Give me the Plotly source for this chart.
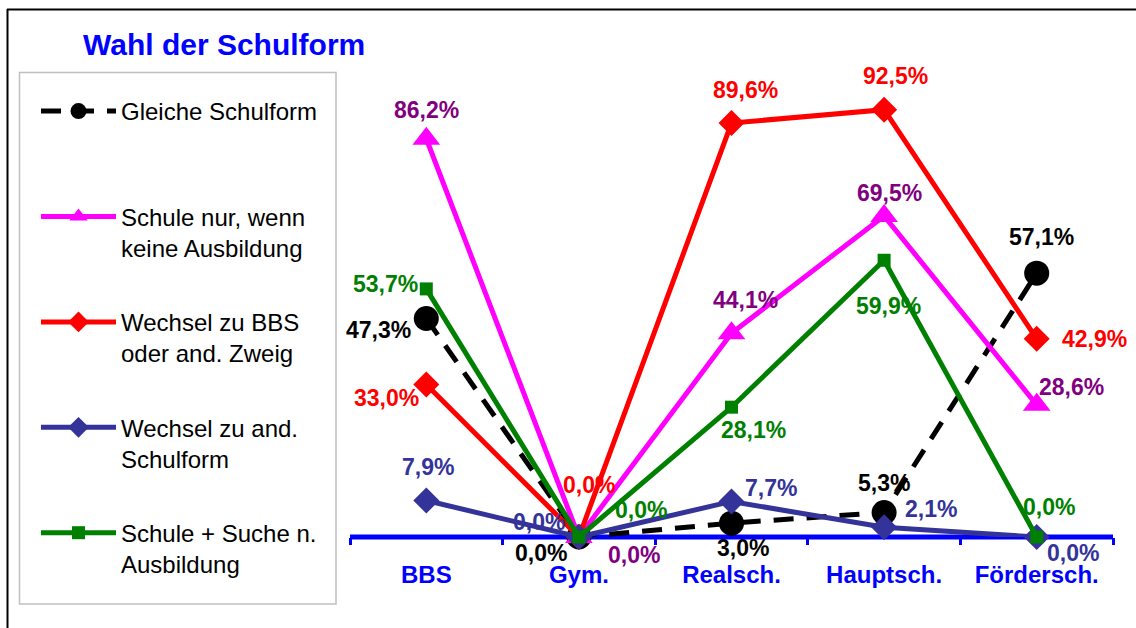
import plotly.graph_objects as go

# ---------------- data ----------------
categories = ["BBS", "Gym.", "Realsch.", "Hauptsch.", "Fördersch."]

gleiche_schulform = [47.3, 0.0, 3.0, 5.3, 57.1]
schule_nur = [86.2, 0.0, 44.1, 69.5, 28.6]
wechsel_bbs = [33.0, 0.0, 89.6, 92.5, 42.9]
wechsel_schulform = [7.9, 0.0, 7.7, 2.1, 0.0]
schule_suche = [53.7, 0.0, 28.1, 59.9, 0.0]

series_names = [
    "Gleiche Schulform<br> ",
    "Schule nur, wenn<br>keine Ausbildung",
    "Wechsel zu BBS<br>oder and. Zweig",
    "Wechsel zu and.<br>Schulform",
    "Schule + Suche n.<br>Ausbildung",
]
series_values = [gleiche_schulform, schule_nur, wechsel_bbs, wechsel_schulform, schule_suche]

title_text = "Wahl der Schulform"

# ---------------- styles ----------------
line_colors = ["#000000", "#FF00FF", "#FF0000", "#333399", "#008000"]
label_colors = ["#000000", "#800080", "#FF0000", "#333399", "#008000"]
symbols = ["circle", "triangle-up", "diamond", "diamond", "square"]
marker_sizes = [25, 24, 20, 20, 13]
dashes = ["20px,13px", "solid", "solid", "solid", "solid"]

# label offsets in pixels (dx right, dy down) relative to each point
label_offsets = [
    [(-48, 12), (-38, 16), (11, 25), (0, -30), (5, -36)],
    [(0, -29), (55, 18), (14, -33), (5, -23), (35, -18)],
    [(-40, 13), (10, -52), (14, -33), (11, -34), (58, 0)],
    [(2, -34), (-40, -15), (39, -13), (47, -18), (36, 16)],
    [(-41, -5), (62, -27), (22, 23), (4, 46), (12, -30)],
]

W, H = 1136, 628
ML, MR, MT, MB = 350, 23, 75, 91
PW = W - ML - MR
PH = H - MT - MB


def px(x):
    return (x - ML) / PW


def py(y):
    return (H - MB - y) / PH


FONT = "Liberation Sans, Arial, sans-serif"

fig = go.Figure()
for i, (name, vals) in enumerate(zip(series_names, series_values)):
    fig.add_trace(go.Scatter(
        x=categories, y=vals, name=name, mode="lines+markers",
        line=dict(color=line_colors[i], width=5, dash=dashes[i]),
        marker=dict(symbol=symbols[i], size=marker_sizes[i], color=line_colors[i],
                    line=dict(width=0)),
        legendgroup=f"g{i}", cliponaxis=False, hoverinfo="skip",
    ))

annotations = []
for i, vals in enumerate(series_values):
    for j, v in enumerate(vals):
        dx, dy = label_offsets[i][j]
        annotations.append(dict(
            x=categories[j], y=v, xref="x", yref="y",
            text=f"{v:.1f}%".replace(".", ","), showarrow=False,
            xanchor="center", yanchor="middle", xshift=dx, yshift=-dy,
            font=dict(family=FONT, size=23, color=label_colors[i], weight="bold"),
        ))

annotations.append(dict(
    x=px(81), y=py(44), xref="paper", yref="paper", text=title_text,
    showarrow=False, xanchor="left", yanchor="middle",
    font=dict(family=FONT, size=30, color="#0000FF", weight="bold"),
))

shapes = [
    # outer frame (top and left visible)
    dict(type="line", xref="paper", yref="paper", x0=px(7), x1=px(1140), y0=py(9.5), y1=py(9.5),
         line=dict(color="#000000", width=2)),
    dict(type="line", xref="paper", yref="paper", x0=px(7.5), x1=px(7.5), y0=py(9), y1=py(640),
         line=dict(color="#000000", width=2)),
    # legend box
    dict(type="rect", xref="paper", yref="paper", x0=px(19.5), x1=px(336), y0=py(72.5), y1=py(604),
         line=dict(color="#C0C0C0", width=1.5), fillcolor="rgba(0,0,0,0)"),
    # category axis line at the bottom of the plot area (value 0)
    dict(type="line", xref="paper", yref="paper", x0=0, x1=1, y0=0, y1=0,
         line=dict(color="#0000FF", width=5), layer="below"),
]

fig.update_layout(
    width=W, height=H,
    margin=dict(l=ML, r=MR, t=MT, b=MB, autoexpand=False),
    paper_bgcolor="white", plot_bgcolor="white",
    showlegend=True,
    legend=dict(
        x=px(36), y=py(89), xanchor="left", yanchor="top",
        font=dict(family=FONT, size=24, color="#000000"),
        bgcolor="rgba(0,0,0,0)", borderwidth=0,
        itemwidth=75, tracegroupgap=40, valign="top", maxheight=620,
        itemclick=False, itemdoubleclick=False,
    ),
    xaxis=dict(
        type="category", categoryorder="array", categoryarray=categories,
        range=[-0.5, 4.5], showgrid=False, zeroline=False, showline=False,
        ticks="outside", tickson="boundaries", ticklen=7, tickwidth=3, tickcolor="#0000FF",
        tickfont=dict(family=FONT, size=24, color="#0000FF", weight="bold"),
        ticklabelstandoff=21, automargin=False, fixedrange=True,
    ),
    yaxis=dict(range=[0, 100], visible=False, fixedrange=True),
    annotations=annotations,
    shapes=shapes,
)

fig.write_html(
    "out.html",
    config={"displayModeBar": False, "staticPlot": True},
    post_script="document.body.style.margin='0px';document.body.style.padding='0px';",
)
